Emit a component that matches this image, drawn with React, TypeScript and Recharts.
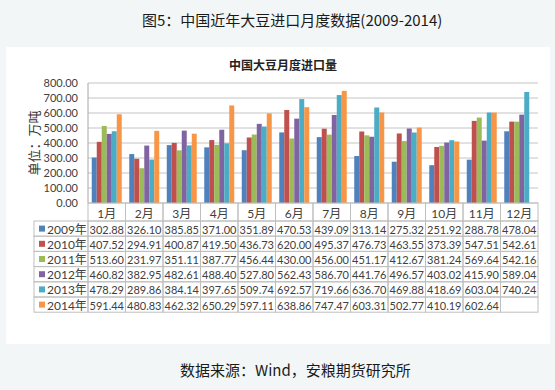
import React from 'react';
import { BarChart, Bar, XAxis, YAxis, CartesianGrid } from 'recharts';

const months = ['1月', '2月', '3月', '4月', '5月', '6月', '7月', '8月', '9月', '10月', '11月', '12月'];
const seriesNames = ['2009年', '2010年', '2011年', '2012年', '2013年', '2014年'];
const v2009 = [302.88, 326.1, 385.85, 371.0, 351.89, 470.53, 439.09, 313.14, 275.32, 251.92, 288.78, 478.04];
const v2010 = [407.52, 294.91, 400.87, 419.5, 436.73, 620.0, 495.37, 476.73, 463.55, 373.39, 547.51, 542.61];
const v2011 = [513.6, 231.97, 351.11, 387.77, 456.44, 430.0, 456.0, 451.17, 412.67, 381.24, 569.64, 542.16];
const v2012 = [460.82, 382.95, 482.61, 488.4, 527.8, 562.43, 586.7, 441.76, 496.57, 403.02, 415.9, 589.04];
const v2013 = [478.29, 289.86, 384.14, 397.65, 509.74, 692.57, 719.66, 636.7, 469.88, 418.69, 603.04, 740.24];
const v2014: (number | null)[] = [591.44, 480.83, 462.32, 650.29, 597.11, 638.86, 747.47, 603.31, 502.77, 410.19, 602.64, null];
const seriesValues: (number | null)[][] = [v2009, v2010, v2011, v2012, v2013, v2014];
const colors = ['#4F81BD', '#C0504D', '#9BBB59', '#8064A2', '#4BACC6', '#F79646'];
const yTicks = [0, 100, 200, 300, 400, 500, 600, 700, 800];

const data = months.map((m, i) => {
  const row: Record<string, any> = { month: m };
  seriesValues.forEach((vals, s) => {
    row['s' + s] = vals[i];
  });
  return row;
});

const COL_W = 37.5;
const HEADER_H = 18;
const ROW_H = 15.2;
const LEGEND_W = 54;
const GRID = '#bfbfbf';
const TXT = '#404040';
const FONT = "Lato, 'Noto Sans CJK SC', sans-serif";

function TableTick(props: any) {
  const { x, y, payload } = props;
  const i = payload.index;
  const left = x - COL_W / 2;
  return (
    <g>
      <rect x={left} y={y} width={COL_W} height={HEADER_H} fill="none" stroke={GRID} />
      <text x={x} y={y + HEADER_H / 2 + 1} textAnchor="middle" dominantBaseline="central" fontSize={12} fill={TXT} fontFamily={FONT}>
        {months[i]}
      </text>
      {seriesValues.map((vals, r) => {
        const ry = y + HEADER_H + r * ROW_H;
        const v = vals[i];
        return (
          <g key={r}>
            <rect x={left} y={ry} width={COL_W} height={ROW_H} fill="none" stroke={GRID} />
            <text x={x} y={ry + ROW_H / 2 + 0.5} textAnchor="middle" dominantBaseline="central" fontSize={11} fill={TXT} fontFamily={FONT}>
              {v == null ? '' : v.toFixed(2)}
            </text>
            {i === 0 && (
              <g>
                <rect x={left - LEGEND_W} y={ry} width={LEGEND_W} height={ROW_H} fill="none" stroke={GRID} />
                <rect x={left - LEGEND_W + 5} y={ry + ROW_H / 2 - 3} width={6} height={6} fill={colors[r]} />
                <text x={left - LEGEND_W + 13} y={ry + ROW_H / 2 + 0.5} dominantBaseline="central" fontSize={12} fill={TXT} fontFamily={FONT}>
                  {seriesNames[r]}
                </text>
              </g>
            )}
          </g>
        );
      })}
    </g>
  );
}

export default function App() {
  return (
    <div style={{ position: 'absolute', left: 0, top: 0, width: 555, height: 390, background: '#f3f6f6', overflow: 'hidden' }}>
      <div style={{ position: 'absolute', left: 6, top: 47, width: 544, height: 297, background: '#ffffff' }} />
      <div style={{ position: 'absolute', left: 142, top: 10, whiteSpace: 'nowrap', fontFamily: "'Noto Sans CJK SC', sans-serif", fontSize: 15, lineHeight: '20px', color: '#1a1a1a' }}>
        图5：中国近年大豆进口月度数据(2009-2014)
      </div>
      <div style={{ position: 'absolute', left: 283, top: 57, transform: 'translateX(-50%)', whiteSpace: 'nowrap', fontFamily: "'Noto Sans CJK SC', sans-serif", fontSize: 12, fontWeight: 700, lineHeight: '16px', color: '#222' }}>
        中国大豆月度进口量
      </div>
      <div style={{ position: 'absolute', left: 180, top: 360, whiteSpace: 'nowrap', fontFamily: "'Noto Sans CJK SC', sans-serif", fontSize: 15, lineHeight: '20px', color: '#1a1a1a' }}>
        数据来源：Wind，安粮期货研究所
      </div>
      <div style={{ position: 'absolute', left: 0, top: 0 }}>
        <BarChart
          width={555}
          height={390}
          data={data}
          margin={{ top: 83, right: 17, bottom: 67, left: 28 }}
          barCategoryGap="10%"
          barGap={0}
        >
          <CartesianGrid vertical={false} stroke="#c4c4c4" />
          <XAxis
            dataKey="month"
            interval={0}
            tickLine={false}
            axisLine={false}
            tickSize={0}
            tickMargin={0}
            height={120}
            tick={(p: any) => <TableTick {...p} />}
          />
          <YAxis
            width={60}
            domain={[0, 800]}
            ticks={yTicks}
            interval={0}
            tickFormatter={(v: number) => v.toFixed(2)}
            tickLine={false}
            tickSize={0}
            tickMargin={10}
            axisLine={{ stroke: '#a6a6a6' }}
            tick={{ fontSize: 11, fill: TXT, fontFamily: FONT }}
            label={{
              content: (lp: any) => {
                const vb = lp.viewBox || { x: 28, y: 83, width: 60, height: 120 };
                const cx = vb.x + 5;
                const cy = vb.y + vb.height / 2;
                return (
                  <text
                    transform={`translate(${cx},${cy}) rotate(-90)`}
                    textAnchor="middle"
                    dominantBaseline="central"
                    fontSize={13}
                    fill="#333"
                    fontFamily="'Noto Sans CJK SC', sans-serif"
                  >
                    单位：万吨
                  </text>
                );
              },
            }}
          />
          {seriesNames.map((name, s) => (
            <Bar key={name} dataKey={'s' + s} name={name} fill={colors[s]} isAnimationActive={false} />
          ))}
        </BarChart>
      </div>
    </div>
  );
}
